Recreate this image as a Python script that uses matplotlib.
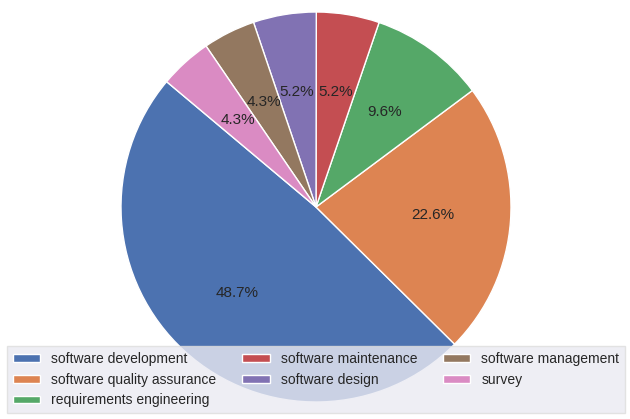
import matplotlib.pyplot as plt
import matplotlib as mpl

mpl.rcParams['font.family'] = ['Liberation Sans', 'DejaVu Sans']
mpl.rcParams['text.color'] = '#262626'

labels = ["software development", "software quality assurance", "requirements engineering",
          "software maintenance", "software design", "software management", "survey"]
counts = [56, 26, 11, 6, 6, 5, 5]
colors = ["#4C72B0", "#DD8452", "#55A868", "#C44E52", "#8172B3", "#937860", "#DA8BC3"]

fig = plt.figure(figsize=(6.3, 4.19), dpi=100)
ax = fig.add_axes([(316 - 195) / 630, 17 / 419, 390 / 630, 390 / 419])
wedges, texts, autotexts = ax.pie(counts, colors=colors, autopct='%1.1f%%', startangle=140,
                                  wedgeprops={'edgecolor': 'white', 'linewidth': 1},
                                  textprops={'fontsize': 11, 'color': '#262626'})
ax.set_xlim(-1, 1)
ax.set_ylim(-1, 1)
ax.set_aspect('equal')

# legend across the bottom, overlapping the pie
leg = fig.legend(wedges, labels, loc='lower left', ncol=3, mode='expand',
                 bbox_to_anchor=(7 / 630, 6 / 419, 618 / 630, 0.1), borderaxespad=0,
                 fontsize=10, facecolor='#EAEAF2', framealpha=0.8, edgecolor='#DDDDDD',
                 fancybox=False, handlelength=2.0, handleheight=0.5, labelspacing=0.5)

fig.savefig('out.png', dpi=100)
